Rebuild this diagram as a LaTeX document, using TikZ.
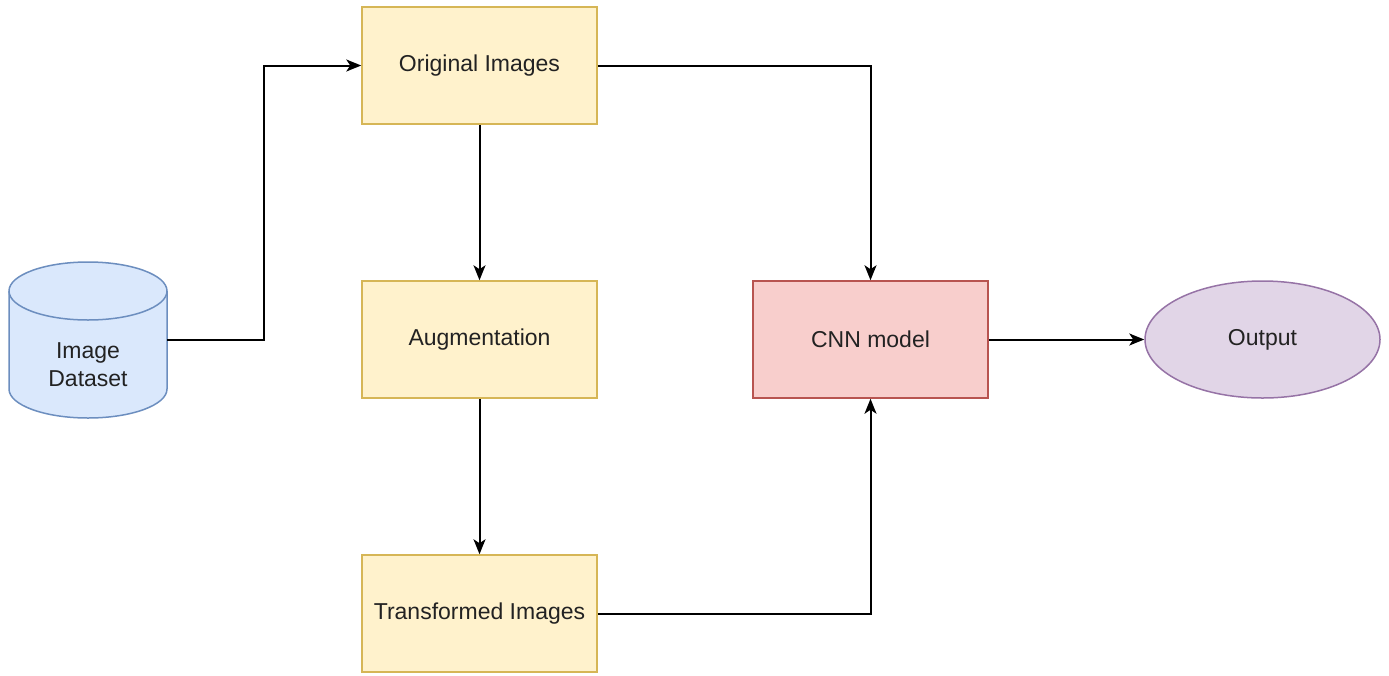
\documentclass[tikz,border=0pt]{standalone}
\usepackage{fontspec}
\setmainfont{Liberation Sans}
\usetikzlibrary{arrows.meta,shapes.geometric}
\definecolor{yfill}{HTML}{FFF2CC}\definecolor{ydraw}{HTML}{D6B656}
\definecolor{rfill}{HTML}{F8CECC}\definecolor{rdraw}{HTML}{B85450}
\definecolor{pfill}{HTML}{E1D5E7}\definecolor{pdraw}{HTML}{9673A6}
\definecolor{bfill}{HTML}{DAE8FC}\definecolor{bdraw}{HTML}{6C8EBF}
\definecolor{txt}{HTML}{222222}
\begin{document}
\begin{tikzpicture}[x=1pt,y=-1pt,
  every node/.style={font=\fontsize{23}{28}\selectfont, text=txt, inner sep=0pt},
  ybox/.style={rectangle, draw=ydraw, fill=yfill, line width=1.5pt, minimum width=235pt, minimum height=117pt},
  rbox/.style={rectangle, draw=rdraw, fill=rfill, line width=1.5pt, minimum width=235pt, minimum height=117pt},
  obox/.style={ellipse, draw=pdraw, fill=pfill, line width=1.5pt, minimum width=235pt, minimum height=117pt},
  conn/.style={line width=2pt, black, -{Stealth[length=15pt,width=12pt,inset=4pt]}}]
\useasboundingbox (0,0) rectangle (1389,675);
% cylinder
\path[fill=bfill, draw=bdraw, line width=1.5pt]
  (9,291) -- (9,389) arc[start angle=180, end angle=360, x radius=79pt, y radius=29pt]
  -- (167,291) arc[start angle=0, end angle=180, x radius=79pt, y radius=29pt] -- cycle;
\draw[bdraw, line width=1.5pt] (9,291) arc[start angle=180, end angle=360, x radius=79pt, y radius=29pt];
\node (ds) [minimum width=158pt, minimum height=156pt] at (88,339.5) {};
\node (dstext) [align=center] at (88,365) {Image\\Dataset};
% boxes
\node (orig) [ybox] at (479.5,65.5) {Original Images};
\node (aug) [ybox] at (479.5,339.5) {Augmentation};
\node (trans) [ybox] at (479.5,613.5) {Transformed Images};
\node (cnn) [rbox] at (870.5,339.5) {CNN model};
\node (out) [obox] at (1262.5,339.5) {Output};
% connectors
\draw[conn] (ds.east) -- (264,339.5) -- (264,65.5) -- (orig.west);
\draw[conn] (orig.south) -- (aug.north);
\draw[conn] (aug.south) -- (trans.north);
\draw[conn] (orig.east) -| (cnn.north);
\draw[conn] (trans.east) -| (cnn.south);
\draw[conn] (cnn.east) -- (out.west);
\end{tikzpicture}
\end{document}
